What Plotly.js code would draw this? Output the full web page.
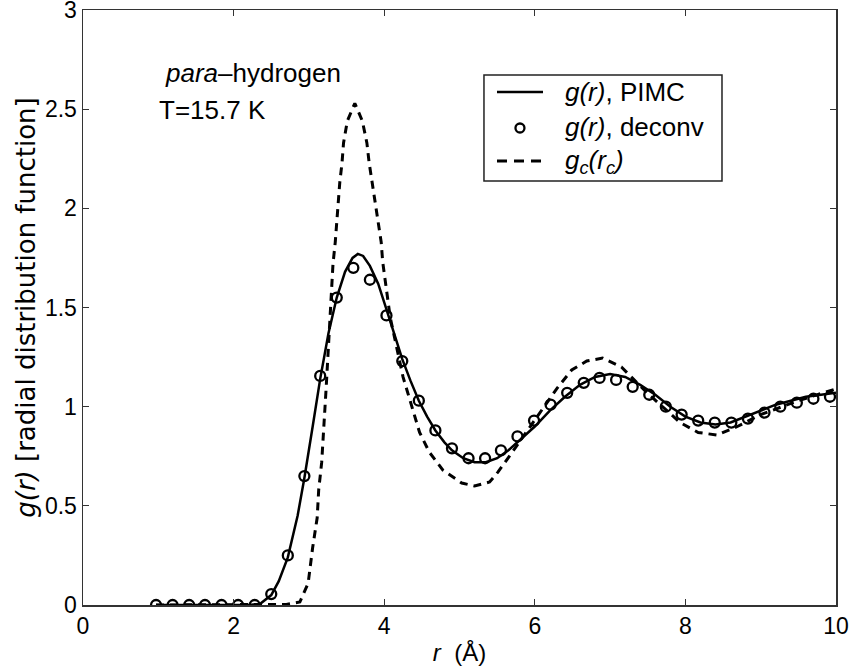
<!DOCTYPE html>
<html>
<head>
<meta charset="utf-8">
<script src="https://cdn.plot.ly/plotly-3.0.1.min.js"></script>
<style>html,body{margin:0;padding:0;background:#fff;}#chart{width:853px;height:672px;}</style>
</head>
<body>
<div id="chart"></div>
<script>
// g(r), PIMC (solid line)
const pimcR = [0.97, 2.2, 2.35, 2.5, 2.6, 2.72, 2.85, 2.94, 3.05, 3.15, 3.26, 3.37, 3.48, 3.58, 3.65, 3.72, 3.81, 3.92, 4.03, 4.14, 4.24, 4.35, 4.46, 4.57, 4.68, 4.8, 4.9, 5.05, 5.2, 5.35, 5.5, 5.65, 5.8, 6.0, 6.2, 6.4, 6.6, 6.8, 7.0, 7.2, 7.4, 7.6, 7.8, 8.0, 8.2, 8.4, 8.6, 8.8, 9.0, 9.2, 9.4, 9.6, 9.8, 10.0];
const pimcG = [0, 0, 0.005, 0.05, 0.12, 0.24, 0.45, 0.64, 0.90, 1.14, 1.37, 1.55, 1.68, 1.75, 1.77, 1.76, 1.71, 1.62, 1.49, 1.36, 1.24, 1.13, 1.03, 0.95, 0.88, 0.82, 0.78, 0.74, 0.72, 0.72, 0.74, 0.78, 0.83, 0.90, 0.98, 1.05, 1.11, 1.15, 1.165, 1.15, 1.11, 1.06, 1.00, 0.95, 0.92, 0.91, 0.92, 0.95, 0.98, 1.01, 1.03, 1.05, 1.06, 1.07];

// g(r), deconv (open circles)
const deconvR = [0.97, 1.19, 1.41, 1.62, 1.84, 2.06, 2.28, 2.50, 2.72, 2.94, 3.15, 3.37, 3.59, 3.81, 4.03, 4.24, 4.46, 4.68, 4.90, 5.12, 5.34, 5.55, 5.77, 5.99, 6.21, 6.43, 6.65, 6.86, 7.08, 7.30, 7.52, 7.74, 7.95, 8.17, 8.39, 8.61, 8.83, 9.05, 9.26, 9.48, 9.70, 9.92];
const deconvG = [0, 0, 0, 0, 0, 0, 0, 0.055, 0.25, 0.65, 1.155, 1.55, 1.70, 1.64, 1.46, 1.23, 1.03, 0.88, 0.79, 0.74, 0.74, 0.78, 0.85, 0.93, 1.01, 1.07, 1.12, 1.145, 1.135, 1.10, 1.06, 1.00, 0.96, 0.93, 0.92, 0.92, 0.94, 0.97, 1.00, 1.02, 1.04, 1.05];

// g_c(r_c) (dashed line)
const gcR = [0.97, 2.5, 2.7, 2.88, 2.99, 3.05, 3.11, 3.13, 3.17, 3.23, 3.28, 3.32, 3.35, 3.37, 3.39, 3.41, 3.44, 3.46, 3.51, 3.61, 3.71, 3.77, 3.80, 3.84, 3.88, 3.92, 3.96, 3.98, 4.08, 4.25, 4.47, 4.6, 4.78, 5.03, 5.2, 5.4, 5.51, 5.7, 6.0, 6.29, 6.49, 6.69, 6.9, 7.15, 7.49, 7.93, 8.17, 8.42, 8.69, 9.0, 9.5, 10.0];
const gcG = [0, 0, 0.003, 0.015, 0.11, 0.29, 0.44, 0.58, 0.72, 1.10, 1.45, 1.72, 1.83, 1.93, 2.03, 2.13, 2.23, 2.33, 2.44, 2.53, 2.44, 2.33, 2.23, 2.13, 2.03, 1.93, 1.83, 1.73, 1.45, 1.15, 0.87, 0.77, 0.68, 0.615, 0.60, 0.62, 0.67, 0.77, 0.93, 1.09, 1.185, 1.23, 1.245, 1.20, 1.07, 0.92, 0.87, 0.857, 0.90, 0.96, 1.03, 1.09];

const xTicks = [0, 2, 4, 6, 8, 10];
const yTicks = [0, 0.5, 1, 1.5, 2, 2.5, 3];
const yTickText = ['0', '0.5', '1', '1.5', '2', '2.5', '3'];
const seriesNames = ['<i>g(r)</i>, PIMC', '<i>g(r)</i>, deconv', '<i>g</i><sub><i>c</i></sub><i>(r</i><sub><i>c</i></sub><i>)</i>'];

const FONT = 'Liberation Sans, Arial, Helvetica, sans-serif';
const WIDE = 'DejaVu Sans, Liberation Sans, sans-serif';
const INK = '#000';

const traces = [
  {x: pimcR, y: pimcG, mode: 'lines', name: seriesNames[0],
   line: {color: INK, width: 2.5}},
  {x: deconvR, y: deconvG, mode: 'markers', name: seriesNames[1],
   marker: {symbol: 'circle-open', size: 10, color: INK, line: {width: 2.3, color: INK}}},
  {x: gcR, y: gcG, mode: 'lines', name: seriesNames[2],
   line: {color: INK, width: 3, dash: '8px,6px'}}
];

const axisCommon = {
  showgrid: false, zeroline: false, showline: true, linecolor: '#333', linewidth: 1.5,
  mirror: 'ticks', ticks: 'inside', ticklen: 6, tickwidth: 1.2, tickcolor: '#333',
  ticklabeloverflow: 'allow',
  tickfont: {family: FONT, size: 23, color: INK}
};

// legend drawn as a framed key in paper coordinates (position/style only)
const legRow = [0.8622, 0.8017, 0.7462];
const legTextY = [0.8622, 0.8034, 0.7462];
const legShapes = [
  {type: 'rect', xref: 'paper', yref: 'paper', x0: 0.5325, x1: 0.8486, y0: 0.7126, y1: 0.8908,
   line: {color: '#222', width: 1.5}, fillcolor: '#fff', layer: 'above'},
  {type: 'line', xref: 'paper', yref: 'paper', x0: 0.5498, x1: 0.6109, y0: legRow[0], y1: legRow[0],
   line: {color: INK, width: 2.5}, layer: 'above'},
  {type: 'circle', xref: 'paper', yref: 'paper', xsizemode: 'pixel', ysizemode: 'pixel',
   xanchor: 0.5803, yanchor: legRow[1], x0: -4.5, x1: 4.5, y0: -4.5, y1: 4.5,
   line: {color: INK, width: 2.3}, layer: 'above'},
  {type: 'line', xref: 'paper', yref: 'paper', x0: 0.5498, x1: 0.6109, y0: legRow[2], y1: legRow[2],
   line: {color: INK, width: 3, dash: '10px,7px'}, layer: 'above'}
];
const legAnnotations = seriesNames.map((t, i) => ({
  xref: 'paper', yref: 'paper', x: 0.6375, y: legTextY[i], xanchor: 'left', yanchor: 'middle',
  text: t, showarrow: false, font: {family: FONT, size: 26, color: INK}
}));

const layout = {
  width: 853, height: 672,
  margin: {l: 83, r: 17, t: 10, b: 67},
  paper_bgcolor: '#fff', plot_bgcolor: '#fff',
  font: {family: FONT, color: INK},
  showlegend: false,
  xaxis: Object.assign({}, axisCommon, {
    range: [0, 10], tickvals: xTicks,
    title: {text: '<i>r</i>  (Å)', font: {family: FONT, size: 24}, standoff: 6}
  }),
  yaxis: Object.assign({}, axisCommon, {
    range: [0, 3], tickvals: yTicks, ticktext: yTickText,
    title: {text: '<i>g(r)</i> [radial distribution function]', font: {family: WIDE, size: 26}, standoff: 2}
  }),
  shapes: legShapes,
  annotations: [
    {xref: 'paper', yref: 'paper', x: 0.106, y: 0.894, xanchor: 'left', yanchor: 'middle',
     text: '<i>para</i>–hydrogen', showarrow: false, font: {family: FONT, size: 26}},
    {xref: 'paper', yref: 'paper', x: 0.098, y: 0.832, xanchor: 'left', yanchor: 'middle',
     text: 'T=15.7 K', showarrow: false, font: {family: FONT, size: 26}}
  ].concat(legAnnotations)
};

Plotly.newPlot('chart', traces, layout, {displayModeBar: false, staticPlot: true});
</script>
</body>
</html>
